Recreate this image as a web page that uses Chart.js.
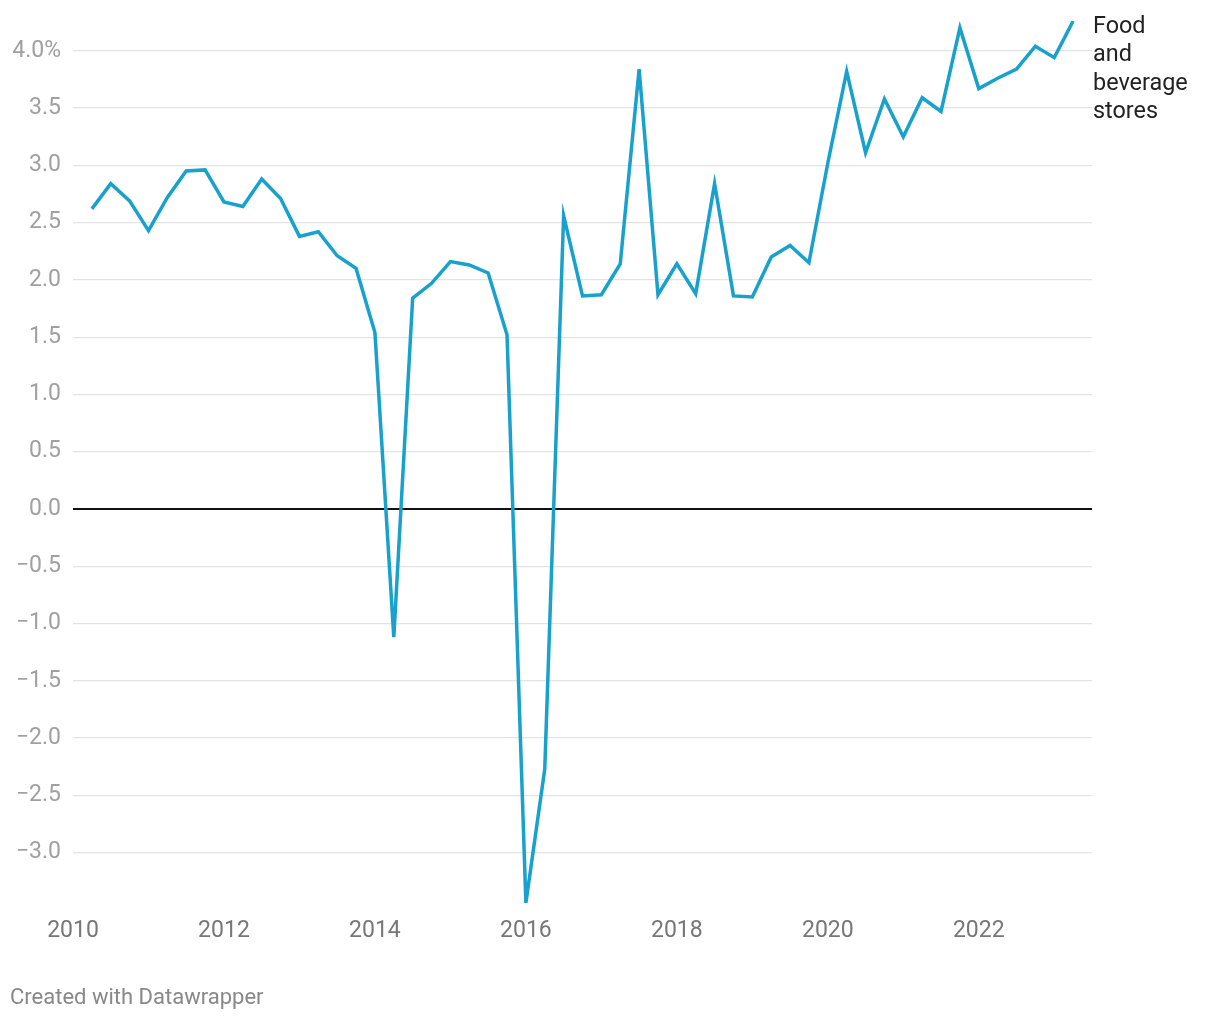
<!DOCTYPE html>
<html>
<head>
<meta charset="utf-8">
<script src="https://cdn.jsdelivr.net/npm/chart.js@4.4.0/dist/chart.umd.min.js"></script>
<style>
  html, body { margin: 0; padding: 0; background: #fff; }
  #wrap { position: relative; width: 1220px; height: 1020px; font-family: Roboto, sans-serif; }
  #line_label {
    position: absolute; left: 1093px; top: 11px;
    font-size: 23.4px; line-height: 28.3px; color: #222;
  }
  #footer {
    position: absolute; left: 10px; top: 984px;
    font-size: 22px; color: #888;
  }
</style>
</head>
<body>
<div id="wrap">
  <canvas id="chart" width="1220" height="1020"></canvas>
  <div id="line_label">Food<br>and<br>beverage<br>stores</div>
  <div id="footer">Created with Datawrapper</div>
</div>
<script>
// trimestri
const quarters = [
  '2010 Q2', '2010 Q3', '2010 Q4',
  '2011 Q1', '2011 Q2', '2011 Q3', '2011 Q4',
  '2012 Q1', '2012 Q2', '2012 Q3', '2012 Q4',
  '2013 Q1', '2013 Q2', '2013 Q3', '2013 Q4',
  '2014 Q1', '2014 Q2', '2014 Q3', '2014 Q4',
  '2015 Q1', '2015 Q2', '2015 Q3', '2015 Q4',
  '2016 Q1', '2016 Q2', '2016 Q3', '2016 Q4',
  '2017 Q1', '2017 Q2', '2017 Q3', '2017 Q4',
  '2018 Q1', '2018 Q2', '2018 Q3', '2018 Q4',
  '2019 Q1', '2019 Q2', '2019 Q3', '2019 Q4',
  '2020 Q1', '2020 Q2', '2020 Q3', '2020 Q4',
  '2021 Q1', '2021 Q2', '2021 Q3', '2021 Q4',
  '2022 Q1', '2022 Q2', '2022 Q3', '2022 Q4',
  '2023 Q1', '2023 Q2'
];

// food and beverage stores, %
const food_values = [
  2.62, 2.84, 2.69,
  2.43, 2.72, 2.95, 2.96,
  2.68, 2.64, 2.88, 2.71,
  2.38, 2.42, 2.21, 2.10,
  1.54, -1.12, 1.84, 1.97,
  2.16, 2.13, 2.06, 1.52,
  -3.44, -2.27, 2.56, 1.86,
  1.87, 2.14, 3.84, 1.87,
  2.14, 1.88, 2.84, 1.86,
  1.85, 2.20, 2.30, 2.15,
  3.02, 3.82, 3.11, 3.58,
  3.25, 3.59, 3.47, 4.20,
  3.67, 3.76, 3.84, 4.04,
  3.94, 4.26
];

const x_ticks = [2010, 2012, 2014, 2016, 2018, 2020, 2022];
const y_ticks = [-3, -2.5, -2, -1.5, -1, -0.5, 0, 0.5, 1, 1.5, 2, 2.5, 3, 3.5, 4];

// "2010 Q2" -> 2010.25 (inizio del trimestre)
function quarterToYear(q) {
  const parts = q.split(' Q');
  return Number(parts[0]) + (Number(parts[1]) - 1) / 4;
}

const points = quarters.map((q, i) => ({ x: quarterToYear(q), y: food_values[i] }));

Chart.defaults.font.family = 'Roboto';

new Chart(document.querySelector('#chart'), {
  type: 'line',
  data: {
    datasets: [{
      data: points,
      borderColor: '#18a1cd',
      borderWidth: 3.5,
      borderJoinStyle: 'miter',
      pointRadius: 0,
      tension: 0,
      fill: false
    }]
  },
  options: {
    responsive: false,
    animation: false,
    layout: { padding: { top: 21, right: 128, left: 0, bottom: 77 } },
    plugins: { legend: { display: false }, tooltip: { enabled: false } },
    scales: {
      x: {
        type: 'linear',
        min: 2010,
        max: 2023.5,
        grid: { display: false },
        border: { display: false },
        afterBuildTicks: (scale) => { scale.ticks = x_ticks.map(v => ({ value: v })) },
        afterFit: (scale) => {
          scale.height = 40
          scale.paddingLeft = 0
          scale.paddingRight = 0
        },
        ticks: {
          color: '#777',
          font: { size: 23 },
          padding: 6,
          maxRotation: 0,
          callback: (v) => String(v)
        }
      },
      y: {
        min: -3.44,
        max: 4.26,
        grid: {
          drawTicks: false,
          color: (ctx) => (ctx.tick && ctx.tick.value === 0) ? '#111' : '#e3e3e3',
          lineWidth: (ctx) => (ctx.tick && ctx.tick.value === 0) ? 2 : 1.2
        },
        border: { display: false },
        afterBuildTicks: (scale) => { scale.ticks = y_ticks.map(v => ({ value: v })) },
        afterFit: (scale) => {
          scale.width = 73
          // niente spazio extra per le etichette in alto e in basso
          scale.paddingTop = 0
          scale.paddingBottom = 0
        },
        ticks: {
          color: '#a0a0a0',
          font: { size: 23 },
          padding: 12,
          callback: (v) => {
            if (v === 4) return '4.0%';
            return v.toFixed(1).replace('-', '\u2212');
          }
        }
      }
    }
  }
});
</script>
</body>
</html>
